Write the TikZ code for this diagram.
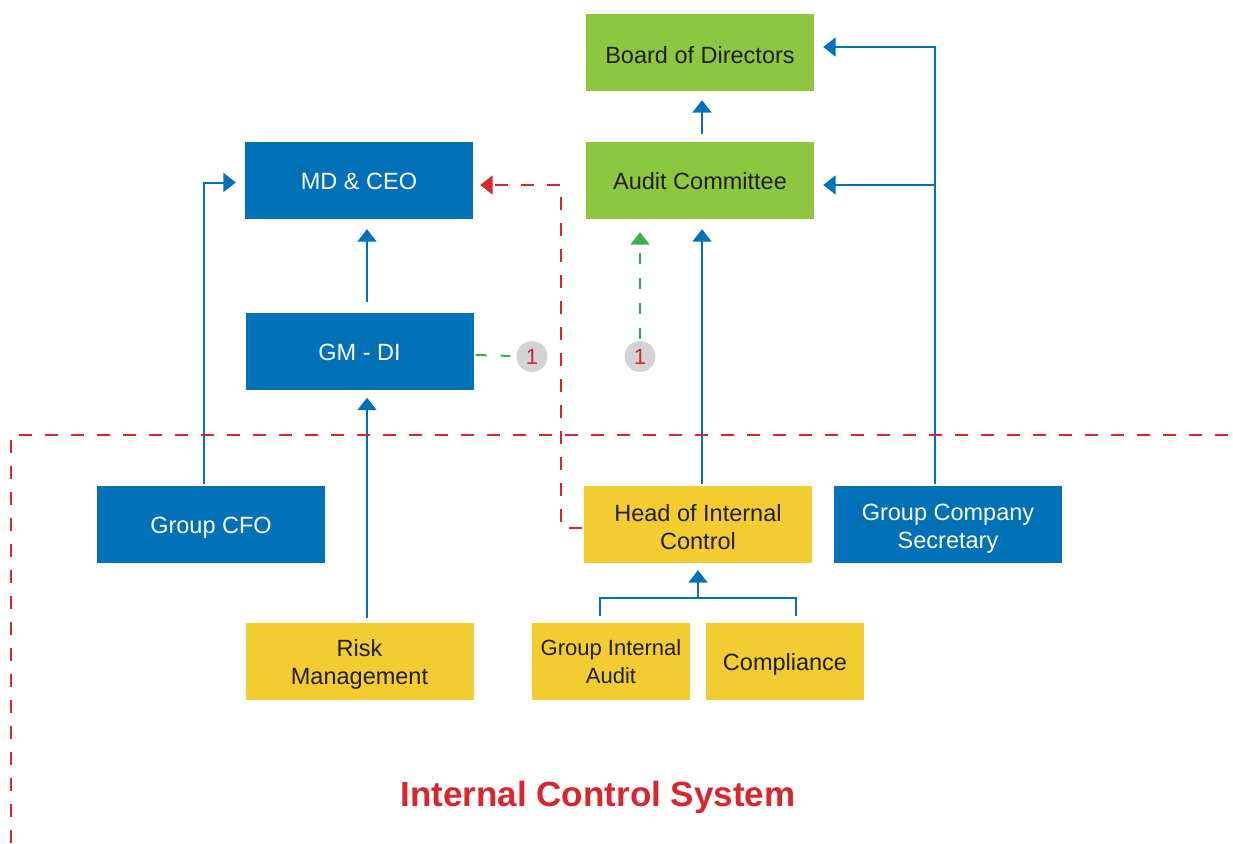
\documentclass[tikz,border=0pt]{standalone}
\usepackage{fontspec}
\setmainfont{Liberation Sans}
\usetikzlibrary{arrows.meta}
\definecolor{boxblue}{RGB}{0,112,184}
\definecolor{boxgreen}{RGB}{141,198,63}
\definecolor{boxyellow}{RGB}{242,204,48}
\definecolor{ctrlred}{RGB}{217,37,46}
\definecolor{linkgreen}{RGB}{61,174,73}
\definecolor{badgegrey}{RGB}{209,211,212}
\definecolor{inkdark}{RGB}{35,31,32}
\tikzset{
  unit/.style={rectangle, inner sep=0pt, minimum width=228pt, minimum height=77pt},
  bluebox/.style={unit, fill=boxblue},
  greenbox/.style={unit, fill=boxgreen},
  yellowbox/.style={unit, fill=boxyellow},
  caption/.style={inner sep=0pt, align=center, font=\fontsize{23.5}{28}\selectfont},
  ontext/.style={caption, text=white},
  darktext/.style={caption, text=inkdark},
  tip/.style={-{Triangle[width=19pt,length=12.5pt]}},
  link/.style={draw=boxblue, line width=2pt, tip},
  redlink/.style={draw=ctrlred, line width=2pt, dash pattern=on 13pt off 13pt},
  greenlink/.style={draw=linkgreen, line width=2pt, dash pattern=on 11pt off 14pt},
  badge/.style={circle, fill=badgegrey, minimum size=31pt, inner sep=0pt,
    text=ctrlred, font=\fontsize{22}{22}\selectfont},
}
\begin{document}
\begin{tikzpicture}[x=1pt,y=-1pt]
\useasboundingbox (0,0) rectangle (1233,843);

% boxes
\node[greenbox] (board) at (700,52.5) {};
\node[greenbox] (audit) at (700,180.5) {};
\node[bluebox] (md) at (359,180.5) {};
\node[bluebox] (gm) at (359.5,351) {};
\node[bluebox] (cfo) at (211,524.5) {};
\node[yellowbox] (head) at (698,524.5) {};
\node[bluebox] (sec) at (948,524.5) {};
\node[yellowbox] (risk) at (359.5,661) {};
\node[yellowbox, minimum width=158pt] (gia) at (611,661) {};
\node[yellowbox, minimum width=158pt] (comp) at (785,661) {};

% box captions
\node[darktext] (board-t) at ([yshift=-2.5pt]board.center) {Board of Directors};
\node[darktext] (audit-t) at ([yshift=-0.5pt]audit.center) {Audit Committee};
\node[ontext] (md-t) at ([yshift=-1pt]md.center) {MD \& CEO};
\node[ontext] (gm-t) at ([yshift=-1pt]gm.center) {GM - DI};
\node[ontext] (cfo-t) at ([yshift=-3.5pt]cfo.center) {Group CFO};
\node[darktext] (head-t) at ([yshift=-3pt]head.center) {Head of Internal\\Control};
\node[ontext] (sec-t) at ([yshift=-4.5pt]sec.center) {Group Company\\Secretary};
\node[darktext] (risk-t) at ([yshift=-3.5pt]risk.center) {Risk\\Management};
\node[darktext, font=\fontsize{22}{28}\selectfont] (gia-t) at ([yshift=-1pt]gia.center) {Group Internal\\Audit};
\node[darktext] (comp-t) at ([yshift=-3pt]comp.center) {Compliance};

% badges
\node[badge] (b1) at (532,356.5) {1};
\node[badge] (b2) at (640,356.5) {1};

% reporting lines
\draw[link, shorten <=8pt, shorten >=9pt] ([xshift=2pt]audit.north) -- ([xshift=2pt]board.south);
\draw[link, shorten <=10pt, shorten >=10pt] ([xshift=7.5pt]gm.north) -- ([xshift=8pt]md.south);
\draw[link, shorten <=4pt, shorten >=8pt] ([xshift=7.5pt]risk.north) -- ([xshift=7.5pt]gm.south);
\draw[link, shorten <=2pt] ([xshift=-7pt]cfo.north) |- ([xshift=-9pt,yshift=-2pt]md.west);
\draw[link, shorten <=2pt, shorten >=10pt] ([xshift=4pt]head.north) -- ([xshift=4pt]head.north |- audit.south);
\draw[link, shorten <=2pt] ([xshift=-13pt]sec.north) |- ([xshift=9pt,yshift=5.5pt]board.east);
\draw[link, shorten <=2pt] ([xshift=-13pt]sec.north) |- ([xshift=9pt,yshift=-4.5pt]audit.east);

% Group Internal Audit and Compliance report to Head of Internal Control
\coordinate (join) at (698,598);
\draw[draw=boxblue, line width=2pt] ([xshift=-11pt,yshift=6pt]gia.north) |- (join) -| ([xshift=11pt,yshift=6pt]comp.north);
\draw[link, shorten >=7pt] (join) -- (head.south);

% dashed reporting line to MD & CEO
\draw[redlink, tip] ([xshift=-2pt,yshift=-3pt]head.west) -| (561,185) -- ([xshift=7pt,yshift=-4.5pt]md.east);

% links marked 1
\draw[greenlink, shorten >=6pt] ([xshift=2pt,yshift=-4pt]gm.east) -- (b1);
\draw[greenlink, tip, shorten <=2pt, shorten >=13pt] (b2) -- (b2 |- audit.south);

% internal control system boundary
\draw[redlink] (11,843) -- (11,434.5) -- (1233,434.5);
\node[text=ctrlred, font=\bfseries\fontsize{35}{35}\selectfont] (title) at (598,797.5) {Internal Control System};
\end{tikzpicture}
\end{document}
